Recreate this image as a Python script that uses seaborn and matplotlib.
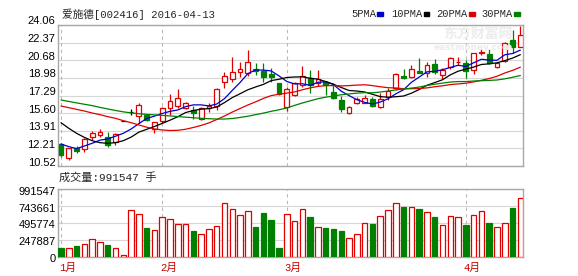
import numpy as np
import pandas as pd
import matplotlib
matplotlib.use("Agg")
import matplotlib.pyplot as plt
import seaborn as sns
from matplotlib.transforms import blended_transform_factory, ScaledTranslation
from matplotlib.patches import Rectangle

# ---------------- data ----------------
title_name = "爱施德[002416] 2016-04-13"
volume_title = "成交量:991547 手"
ma_names = ["5PMA", "10PMA", "20PMA", "30PMA"]

opens = [12.60, 11.26, 12.22, 12.18, 13.30, 13.47, 13.33, 12.79, 14.80, 15.73,
         15.36, 15.42, 14.05, 14.84, 16.06, 16.28, 16.12, 15.90, 15.03, 16.06,
         16.28, 18.55, 18.87, 19.57, 19.42, 19.83, 19.67, 19.35, 18.52, 16.19,
         17.34, 18.27, 18.98, 18.46, 18.58, 17.62, 16.86, 15.64, 16.60, 16.60,
         16.93, 16.16, 17.12, 17.98, 19.16, 19.04, 19.67, 19.42, 20.31, 19.26,
         20.00, 20.50, 20.44, 19.74, 21.40, 21.28, 20.06, 20.63, 22.62, 21.98]
closes = [11.58, 12.22, 11.99, 13.08, 13.66, 13.76, 12.50, 13.56, 14.80, 15.73,
          16.38, 14.91, 14.74, 16.06, 16.76, 17.01, 16.54, 15.58, 16.06, 16.28,
          17.89, 19.16, 19.52, 19.83, 20.54, 19.67, 19.10, 19.10, 17.43, 17.92,
          18.49, 19.18, 18.30, 18.87, 18.30, 17.08, 16.02, 16.16, 16.93, 17.02,
          16.25, 16.95, 17.72, 19.32, 18.97, 19.81, 19.48, 20.22, 19.58, 19.74,
          20.86, 20.54, 19.67, 21.34, 21.44, 20.44, 20.44, 22.36, 21.92, 23.10]
highs = [12.76, 12.25, 12.44, 13.24, 13.91, 14.04, 13.81, 13.69, 14.80, 15.99,
         16.54, 15.51, 14.78, 16.20, 17.43, 17.92, 16.70, 16.28, 16.16, 16.60,
         17.98, 19.57, 21.02, 20.54, 21.66, 20.38, 20.38, 19.90, 18.52, 18.14,
         18.62, 20.14, 19.74, 19.74, 18.71, 18.46, 17.26, 16.28, 17.18, 17.34,
         17.18, 17.50, 17.98, 19.42, 19.81, 20.22, 20.86, 20.54, 20.77, 19.90,
         20.96, 21.02, 20.70, 21.40, 21.73, 21.73, 20.54, 22.42, 23.58, 24.00]
lows = [11.42, 11.12, 11.80, 11.89, 13.02, 13.28, 12.37, 12.54, 14.80, 15.42,
        14.62, 14.84, 13.72, 14.62, 15.42, 16.06, 15.96, 15.03, 14.94, 15.73,
        15.90, 17.98, 18.62, 19.10, 19.16, 19.26, 18.55, 18.55, 17.34, 15.78,
        17.24, 18.06, 17.53, 18.18, 17.34, 16.95, 15.68, 15.48, 16.44, 16.54,
        16.16, 16.06, 16.86, 17.82, 18.84, 18.94, 19.42, 19.04, 19.35, 18.84,
        19.81, 20.22, 18.94, 19.35, 21.18, 20.31, 19.90, 20.54, 21.34, 21.92]
volumes = [132000, 132000, 161000, 190000, 259000, 220000, 176000, 127000, 29000, 684000,
           630000, 425000, 391000, 581000, 552000, 484000, 484000, 381000, 337000, 410000,
           449000, 786000, 698000, 611000, 669000, 440000, 645000, 542000, 132000, 625000,
           523000, 698000, 586000, 435000, 425000, 410000, 381000, 278000, 337000, 493000,
           484000, 596000, 684000, 786000, 733000, 733000, 703000, 655000, 586000, 469000,
           596000, 581000, 469000, 615000, 669000, 498000, 435000, 498000, 718000, 860000]
ma5 = [12.63, 12.38, 12.19, 12.44, 12.70, 13.00, 13.12, 13.38, 13.66, 14.07,
       14.59, 15.08, 15.31, 15.56, 15.77, 15.90, 16.22, 16.39, 16.39, 16.29,
       16.47, 16.99, 17.78, 18.54, 19.39, 19.74, 19.73, 19.65, 19.17, 18.64,
       18.40, 18.42, 18.26, 18.55, 18.62, 18.34, 17.70, 17.28, 16.89, 16.63,
       16.47, 16.66, 16.97, 17.45, 17.84, 18.55, 19.06, 19.56, 19.61, 19.77,
       19.98, 20.19, 20.08, 20.43, 20.77, 20.69, 20.67, 21.20, 21.32, 21.65]
ma10 = [14.68, 14.14, 13.66, 13.27, 12.95, 12.76, 12.70, 12.76, 12.95, 13.29,
        13.77, 14.04, 14.31, 14.61, 14.92, 15.25, 15.65, 15.85, 15.98, 16.03,
        16.18, 16.61, 17.09, 17.46, 17.84, 18.11, 18.36, 18.72, 18.85, 19.02,
        19.07, 19.08, 18.95, 18.86, 18.63, 18.37, 18.06, 17.77, 17.72, 17.63,
        17.41, 17.18, 17.13, 17.17, 17.24, 17.51, 17.86, 18.27, 18.53, 18.80,
        19.27, 19.62, 19.82, 20.02, 20.27, 20.33, 20.43, 20.64, 20.88, 21.21]
ma20 = [16.28, 16.12, 15.96, 15.80, 15.61, 15.45, 15.26, 15.10, 14.87, 14.68,
        14.46, 14.25, 14.08, 13.98, 13.93, 13.95, 14.05, 14.22, 14.42, 14.66,
        14.98, 15.32, 15.70, 16.04, 16.38, 16.68, 17.01, 17.28, 17.41, 17.52,
        17.63, 17.84, 18.02, 18.16, 18.24, 18.24, 18.21, 18.24, 18.29, 18.32,
        18.24, 18.13, 18.04, 18.01, 17.94, 17.94, 17.96, 18.02, 18.13, 18.22,
        18.34, 18.40, 18.47, 18.60, 18.75, 18.92, 19.14, 19.45, 19.70, 20.01]
ma30 = [16.86, 16.72, 16.58, 16.45, 16.32, 16.15, 16.00, 15.85, 15.72, 15.62,
        15.54, 15.48, 15.43, 15.38, 15.33, 15.27, 15.21, 15.15, 15.10, 15.06,
        15.03, 15.03, 15.08, 15.18, 15.30, 15.45, 15.60, 15.77, 15.92, 16.09,
        16.34, 16.57, 16.78, 16.98, 17.13, 17.24, 17.36, 17.44, 17.52, 17.56,
        17.55, 17.62, 17.72, 17.83, 17.90, 18.00, 18.10, 18.25, 18.37, 18.48,
        18.58, 18.63, 18.63, 18.68, 18.71, 18.74, 18.78, 18.89, 19.04, 19.21]
price_ticks = [24.06, 22.37, 20.68, 18.98, 17.29, 15.60, 13.91, 12.21, 10.52]
volume_ticks = [991547, 743661, 495774, 247887, 0]
month_labels = ["1月", "2月", "3月", "4月"]
month_pos = [0, 13, 29, 52]

# ---------------- style ----------------
RED = "#e00000"
GREEN = "#008000"
BLACK = "#000000"
BLUE = "#0000cc"
MA_COLORS = {"5PMA": BLUE, "10PMA": BLACK, "20PMA": RED, "30PMA": GREEN}
GRID = "#d6d6d6"
FRAME = "#a8a8a8"
MONO = ["Liberation Mono", "Noto Sans CJK SC"]
SANS = ["Liberation Sans", "DejaVu Sans"]

sns.set_style("white")
plt.rcParams["font.family"] = MONO

W, H = 578, 276
fig = plt.figure(figsize=(W / 100, H / 100), dpi=100)
fig.patch.set_facecolor("white")


def rect(l, t, r, b):
    return [l / W, 1 - b / H, (r - l) / W, (b - t) / H]


axp = fig.add_axes(rect(58, 25, 523, 166))
axv = fig.add_axes(rect(58, 189.3, 523, 257))

n = len(closes)
idx = np.arange(n)
o = np.array(opens)
c = np.array(closes)
h = np.array(highs)
lo = np.array(lows)
edge = np.where(c > o, RED, np.where(c < o, GREEN, BLACK))
face = np.where(c > o, "white", np.where(c < o, GREEN, BLACK))

# watermark (faint logo text)
fig.text(443 / W, 1 - 34 / H, "东方财富网", fontsize=10, color="#ececec",
         family=["Noto Sans CJK SC"], fontweight="bold", va="center", ha="left", zorder=0)
fig.text(434 / W, 1 - 47.5 / H, "eastmoney.com", fontsize=6.5, color="#ececec",
         family=["DejaVu Sans"], fontweight="bold", va="center", ha="left", zorder=0)

# ---------------- price panel ----------------
axp.set_facecolor("none")
axp.vlines(idx, lo, h, colors=edge, lw=0.9, zorder=2)
axp.bar(idx, np.abs(c - o), bottom=np.minimum(o, c), width=0.62,
        color=face, edgecolor=edge, linewidth=0.9, zorder=3)

ma_df = pd.DataFrame({"idx": idx, "5PMA": ma5, "10PMA": ma10, "20PMA": ma20, "30PMA": ma30})
ma_long = ma_df.melt(id_vars="idx", var_name="ma", value_name="value")
sns.lineplot(data=ma_long, x="idx", y="value", hue="ma", hue_order=ma_names,
             palette=MA_COLORS, lw=0.9, legend=False, ax=axp, zorder=4)

# ---------------- volume panel ----------------
vdf = pd.DataFrame({"idx": idx, "vol": volumes, "dir": np.where(c >= o, "up", "down")})
sns.barplot(data=vdf, x="idx", y="vol", hue="dir", palette={"up": "white", "down": GREEN},
            native_scale=True, width=0.7, dodge=False, legend=False, errorbar=None,
            saturation=1, linewidth=0.9, ax=axv, zorder=3)
for p in axv.patches:
    fc = matplotlib.colors.to_hex(p.get_facecolor())
    p.set_edgecolor(RED if fc == "#ffffff" else GREEN)

xl = (-0.385, 59.34)
for ax, ticks in ((axp, price_ticks), (axv, volume_ticks)):
    ax.set_xlim(*xl)
    ax.set_ylim(min(ticks), max(ticks))
    ax.set_yticks(ticks)
    ax.set_xticks(month_pos)
    ax.grid(axis="y", color=GRID, lw=0.8, zorder=0)
    ax.grid(axis="x", visible=False)
    for m in month_pos:
        ax.axvline(m, color="#b8b8b8", lw=0.8, dashes=(3, 3), zorder=1)
    ax.tick_params(labelleft=False, labelbottom=False, length=0)
    ax.set_xlabel("")
    ax.set_ylabel("")
    for s in ax.spines.values():
        s.set_color(FRAME)
        s.set_linewidth(1.0)
        s.set_visible(True)

# tick labels
tp = blended_transform_factory(fig.transFigure, axp.transData) + ScaledTranslation(0, 0.035, fig.dpi_scale_trans)
for t in price_ticks:
    axp.text(55.5 / W, t, f"{t:.2f}", transform=tp, ha="right", va="center",
             fontsize=8, family=SANS, color="#000000", clip_on=False)
tv = blended_transform_factory(fig.transFigure, axv.transData) + ScaledTranslation(0, -0.023, fig.dpi_scale_trans)
for t in volume_ticks:
    axv.text(55.5 / W, t, f"{t}", transform=tv, ha="right", va="center",
             fontsize=8, family=SANS, color="#000000", clip_on=False)

tm = blended_transform_factory(axv.transData, fig.transFigure)
for lab, m in zip(month_labels, month_pos):
    axv.text(m - 0.25, 1 - 267.5 / H, lab, transform=tm, ha="left", va="center",
             fontsize=7.7, family=MONO, color="#cc0000", clip_on=False)

# titles
fig.text(62 / W, 1 - 14.5 / H, title_name, fontsize=7.7, family=MONO, va="center", ha="left")
fig.text(59 / W, 1 - 177.5 / H, volume_title, fontsize=8, family=MONO, va="center", ha="left")

# MA legend
leg_x = [351, 391.7, 436.7, 481.7]
mark_x = [377.3, 423.5, 469, 514]
for name, lx, mx in zip(ma_names, leg_x, mark_x):
    fig.text(lx / W, 1 - 14 / H, name, fontsize=7.5, family=MONO, va="center", ha="left")
    fig.patches.append(Rectangle((mx / W, 1 - 15.5 / H), 5.5 / W, 3 / H,
                                 transform=fig.transFigure, color=MA_COLORS[name]))

fig.savefig("out.png", dpi=100, facecolor="white")
